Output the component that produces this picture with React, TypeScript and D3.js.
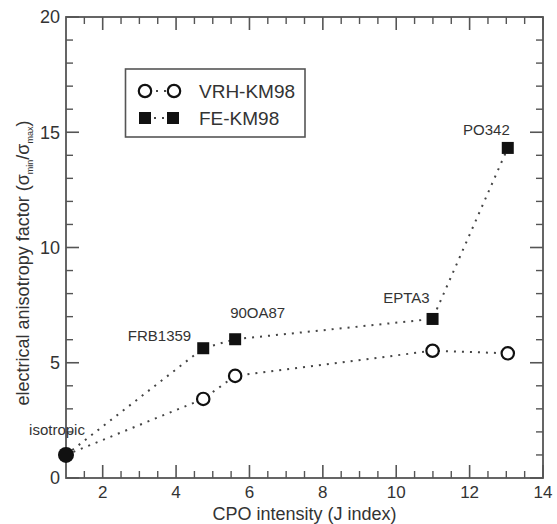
import React from "react";
import * as d3 from "d3";

// ---- data ----
const jIndex = [1, 4.74, 5.61, 10.99, 13.04];
const vrhKM98 = [1, 3.43, 4.43, 5.52, 5.41];
const feKM98 = [1, 5.63, 6.02, 6.9, 14.32];
const sampleLabels = ["isotropic", "FRB1359", "90OA87", "EPTA3", "PO342"];
const seriesNames = ["VRH-KM98", "FE-KM98"];
const xMajorTicks = [2, 4, 6, 8, 10, 12, 14];
const yMajorTicks = [0, 5, 10, 15, 20];

// label placement (layout only)
const labelPlacement: Record<string, { dx: number; dy: number; anchor: string }> = {
  isotropic: { dx: -9, dy: -20, anchor: "middle" },
  FRB1359: { dx: -12, dy: -7, anchor: "end" },
  "90OA87": { dx: -5, dy: -21, anchor: "start" },
  EPTA3: { dx: -3, dy: -16, anchor: "end" },
  PO342: { dx: 2, dy: -13, anchor: "end" },
};

const W = 557;
const H = 524;
const L = 66, R = 543, T = 17, B = 478;
const FONT = "'Liberation Sans', Arial, Helvetica, sans-serif";
const AXIS = "#555";
const TXT = "#333";
const MARK = "#111";

export default function App() {
  const x = d3.scaleLinear().domain([1, 14]).range([L, R]);
  const y = d3.scaleLinear().domain([0, 20]).range([B, T]);

  const xMinor = d3.range(1.5, 14, 0.5).filter((v) => Math.abs(v % 2) > 1e-6);
  const yMinor = d3.range(1, 20, 1).filter((v) => v % 5 !== 0);

  const line = d3
    .line<number>()
    .x((_, i) => x(jIndex[i]))
    .y((d) => y(d));

  const dotStyle = {
    fill: "none",
    stroke: "#444",
    strokeWidth: 2,
    strokeDasharray: "2,6",
  } as const;

  const majLen = 13;
  const minLen = 7;

  return (
    <svg
      width={W}
      height={H}
      style={{ position: "absolute", left: 0, top: 0, display: "block", background: "#fff" }}
      fontFamily={FONT}
    >
      {/* frame */}
      <rect x={L} y={T} width={R - L} height={B - T} fill="none" stroke={AXIS} strokeWidth={1.8} />

      {/* x ticks bottom & top */}
      {xMajorTicks.map((v) => (
        <g key={"xm" + v}>
          <line x1={x(v)} x2={x(v)} y1={B} y2={B - majLen} stroke={AXIS} strokeWidth={1.6} />
          <line x1={x(v)} x2={x(v)} y1={T} y2={T + majLen} stroke={AXIS} strokeWidth={1.6} />
          <text x={x(v)} y={B + 20} textAnchor="middle" fontSize={17} fill={TXT}>
            {v}
          </text>
        </g>
      ))}
      {xMinor.map((v) => (
        <g key={"xn" + v}>
          <line x1={x(v)} x2={x(v)} y1={B} y2={B - minLen} stroke={AXIS} strokeWidth={1.4} />
          <line x1={x(v)} x2={x(v)} y1={T} y2={T + minLen} stroke={AXIS} strokeWidth={1.4} />
        </g>
      ))}

      {/* y ticks left & right */}
      {yMajorTicks.map((v) => (
        <g key={"ym" + v}>
          <line x1={L} x2={L + majLen} y1={y(v)} y2={y(v)} stroke={AXIS} strokeWidth={1.6} />
          <line x1={R} x2={R - majLen} y1={y(v)} y2={y(v)} stroke={AXIS} strokeWidth={1.6} />
          <text x={L - 6} y={y(v)} dy="0.36em" textAnchor="end" fontSize={18} fill={TXT}>
            {v}
          </text>
        </g>
      ))}
      {yMinor.map((v) => (
        <g key={"yn" + v}>
          <line x1={L} x2={L + minLen} y1={y(v)} y2={y(v)} stroke={AXIS} strokeWidth={1.4} />
          <line x1={R} x2={R - minLen} y1={y(v)} y2={y(v)} stroke={AXIS} strokeWidth={1.4} />
        </g>
      ))}

      {/* axis titles */}
      <text x={(L + R) / 2} y={519.5} textAnchor="middle" fontSize={18} fill={TXT}>
        CPO intensity (J index)
      </text>
      <text
        transform={`translate(29,${263}) rotate(-90)`}
        textAnchor="middle"
        fontSize={18}
        fill={TXT}
      >
        electrical anisotropy factor (σ
        <tspan fontSize={9} dy={4}>min</tspan>
        <tspan dy={-4}>/σ</tspan>
        <tspan fontSize={9} dy={4}>max</tspan>
        <tspan dy={-4}>)</tspan>
      </text>

      {/* dotted lines */}
      <path d={line(vrhKM98) || ""} {...dotStyle} />
      <path d={line(feKM98) || ""} {...dotStyle} />

      {/* VRH markers */}
      {vrhKM98.map((v, i) =>
        i === 0 ? null : (
          <circle key={"c" + i} cx={x(jIndex[i])} cy={y(v)} r={6.2} fill="#fff" stroke={MARK} strokeWidth={2.2} />
        )
      )}
      {/* FE markers */}
      {feKM98.map((v, i) =>
        i === 0 ? null : (
          <rect key={"s" + i} x={x(jIndex[i]) - 6} y={y(v) - 6} width={12} height={12} fill={MARK} />
        )
      )}
      {/* isotropic point */}
      <circle cx={x(jIndex[0])} cy={y(feKM98[0])} r={8} fill={MARK} />

      {/* labels */}
      {sampleLabels.map((lab, i) => {
        const p = labelPlacement[lab];
        return (
          <text
            key={lab}
            x={x(jIndex[i]) + p.dx}
            y={y(feKM98[i]) + p.dy}
            textAnchor={p.anchor}
            fontSize={15}
            fill={TXT}
          >
            {lab}
          </text>
        );
      })}

      {/* legend */}
      <rect x={125.5} y={69} width={179.5} height={68} fill="#fff" stroke={AXIS} strokeWidth={1.6} />
      <line x1={145} x2={174} y1={91} y2={91} {...dotStyle} strokeDasharray="2,6" strokeDashoffset={-11} />
      <circle cx={145} cy={91} r={6.2} fill="#fff" stroke={MARK} strokeWidth={2.2} />
      <circle cx={174} cy={91} r={6.2} fill="#fff" stroke={MARK} strokeWidth={2.2} />
      <text x={199} y={97.5} fontSize={19} fill={TXT}>
        {seriesNames[0]}
      </text>
      <line x1={145} x2={173} y1={118} y2={118} {...dotStyle} strokeDasharray="2,6" strokeDashoffset={-9} />
      <rect x={139} y={112} width={12} height={12} fill={MARK} />
      <rect x={167} y={112} width={12} height={12} fill={MARK} />
      <text x={199} y={124.5} fontSize={19} fill={TXT}>
        {seriesNames[1]}
      </text>
    </svg>
  );
}
